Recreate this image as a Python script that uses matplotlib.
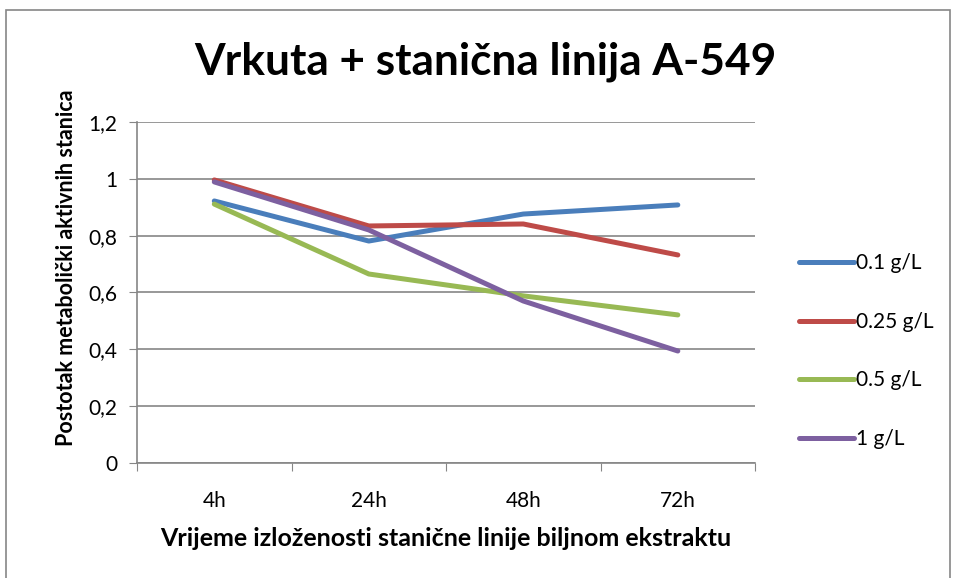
import matplotlib.pyplot as plt
import numpy as np
from matplotlib.patches import Rectangle

plt.rcParams['font.family'] = ['Lato', 'DejaVu Sans']

categories = ['4h', '24h', '48h', '72h']
labels = ['0.1 g/L', '0.25 g/L', '0.5 g/L', '1 g/L']
s_01 = [0.922, 0.781, 0.876, 0.908]
s_025 = [0.996, 0.834, 0.841, 0.732]
s_05 = [0.911, 0.665, 0.588, 0.521]
s_1 = [0.989, 0.820, 0.570, 0.394]
colors = ['#4A7EBB', '#BE4B48', '#98B954', '#7D60A0']

fig = plt.figure(figsize=(9.57, 5.78), dpi=100)
ax = fig.add_axes([0.1432, 0.199, 0.6458, 0.590])

x = np.arange(len(categories)) + 0.5
for vals, lab, c in zip([s_01, s_025, s_05, s_1], labels, colors):
    ax.plot(x, vals, color=c, lw=3.6, label=lab, solid_capstyle='round')

ax.set_xlim(0, 4)
ax.set_ylim(0, 1.2)
yt = np.arange(0, 1.21, 0.2)
ax.set_yticks(yt)
ax.set_yticklabels(['0' if v == 0 else ('1' if abs(v - 1) < 1e-9 else f'{v:.1f}'.replace('.', ',')) for v in yt])
ax.set_xticks([0, 1, 2, 3, 4])
ax.set_xticklabels([])
ax.set_xticks(x, minor=True)
ax.set_xticklabels(categories, minor=True)
ax.tick_params(axis='x', which='minor', length=0, labelsize=15, pad=20)
ax.tick_params(axis='x', which='major', length=6, color='#868686')
ax.tick_params(axis='y', length=6, color='#868686', labelsize=15, pad=8)
ax.grid(axis='y', color='#868686', lw=1.2)
ax.set_axisbelow(True)
for side in ['top', 'right']:
    ax.spines[side].set_visible(False)
for side in ['left', 'bottom']:
    ax.spines[side].set_color('#868686')
    ax.spines[side].set_linewidth(1.2)

ax.set_xlabel('Vrijeme izloženosti stanične linije biljnom ekstraktu', fontsize=18, fontweight='bold', labelpad=12)
ax.set_ylabel('Postotak metabolički aktivnih stanica', fontsize=15.5, fontweight='bold')
ax.yaxis.set_label_coords(-0.097, 0.572)
fig.text(0.507, 0.893, 'Vrkuta + stanična linija A-549', fontsize=31.8, fontweight='bold', ha='center', va='center')

ax.legend(loc='center left', bbox_to_anchor=(1.04, 0.328), frameon=False, fontsize=15,
          handlelength=2.65, handletextpad=0.1, labelspacing=1.85)

fig.patches.append(Rectangle((0.006, -0.01), 0.987, 0.993, transform=fig.transFigure,
                             fill=False, edgecolor='#868686', lw=1.2))

fig.savefig('out.png', dpi=100)
